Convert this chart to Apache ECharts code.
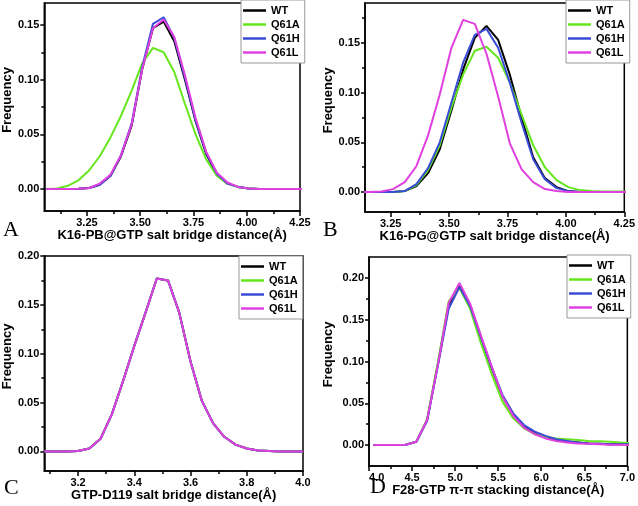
<!DOCTYPE html>
<html><head><meta charset="utf-8">
<script src="https://cdn.jsdelivr.net/npm/echarts@6/dist/echarts.min.js"></script>
<style>html,body{margin:0;padding:0;background:#fff}#c{width:638px;height:506px}</style>
</head><body><div id="c"></div>
<script>
const seriesNames = ['WT', 'Q61A', 'Q61H', 'Q61L'];
const seriesColors = ['#000000', '#66E61E', '#3A4CD6', '#E040E0'];

// Panel A: K16-PB@GTP salt bridge distance
const A_x = [3.06,3.11,3.16,3.21,3.26,3.31,3.36,3.41,3.46,3.51,3.56,3.61,3.66,3.71,3.76,3.81,3.86,3.91,3.96,4.01,4.06,4.11,4.16,4.21,4.26];
const A_WT   = [0,0,0,0.0003,0.001,0.004,0.012,0.030,0.058,0.110,0.147,0.153,0.135,0.100,0.062,0.032,0.013,0.005,0.002,0.0005,0,0,0,0,0];
const A_Q61A = [0,0.0005,0.003,0.008,0.017,0.030,0.047,0.067,0.090,0.115,0.129,0.125,0.107,0.078,0.050,0.027,0.012,0.005,0.002,0.0005,0,0,0,0,0];
const A_Q61H = [0,0,0,0.0003,0.001,0.004,0.012,0.031,0.060,0.112,0.151,0.157,0.138,0.102,0.063,0.033,0.014,0.005,0.002,0.0005,0,0,0,0,0];
const A_Q61L = [0,0,0,0.0003,0.001,0.005,0.013,0.031,0.059,0.110,0.147,0.155,0.139,0.104,0.065,0.034,0.015,0.006,0.002,0.0006,0,0,0,0,0];
const A_xTicks = [3.25,3.50,3.75,4.00,4.25];
const A_yTicks = [0,0.05,0.10,0.15];

// Panel B: K16-PG@GTP salt bridge distance
const B_x = [3.11,3.16,3.21,3.26,3.31,3.36,3.41,3.46,3.51,3.56,3.61,3.66,3.71,3.76,3.81,3.86,3.91,3.96,4.01,4.06,4.11,4.16,4.21,4.26];
const B_WT   = [0,0,0,0,0.001,0.006,0.019,0.043,0.082,0.123,0.155,0.167,0.153,0.118,0.075,0.035,0.014,0.005,0.001,0,0,0,0,0];
const B_Q61A = [0,0,0,0,0.001,0.007,0.022,0.047,0.085,0.118,0.142,0.146,0.135,0.110,0.078,0.047,0.025,0.012,0.005,0.002,0.001,0.0006,0.0005,0.0005];
const B_Q61H = [0,0,0,0,0.001,0.008,0.024,0.050,0.090,0.130,0.158,0.164,0.145,0.110,0.070,0.033,0.013,0.004,0.001,0,0,0,0,0];
const B_Q61L = [0,0,0.0005,0.003,0.010,0.026,0.057,0.098,0.145,0.173,0.169,0.139,0.096,0.049,0.023,0.010,0.003,0.001,0,0,0,0,0,0];
const B_xTicks = [3.25,3.50,3.75,4.00,4.25];
const B_yTicks = [0,0.05,0.10,0.15];

// Panel C: GTP-D119 salt bridge distance
const C_x = [3.08,3.12,3.16,3.20,3.24,3.28,3.32,3.36,3.40,3.44,3.48,3.52,3.56,3.60,3.64,3.68,3.72,3.76,3.80,3.84,3.88,3.92,3.96,4.00];
const C_WT   = [0,0,0,0.0005,0.003,0.013,0.038,0.072,0.108,0.142,0.177,0.175,0.142,0.092,0.052,0.029,0.015,0.007,0.003,0.001,0.0004,0,0,0];
const C_Q61A = [0,0,0,0.0005,0.003,0.013,0.038,0.072,0.108,0.142,0.177,0.175,0.142,0.092,0.052,0.029,0.015,0.007,0.003,0.001,0.0004,0,0,0];
const C_Q61H = [0,0,0,0.0005,0.003,0.013,0.038,0.072,0.108,0.142,0.177,0.175,0.142,0.092,0.052,0.029,0.015,0.007,0.003,0.001,0.0004,0,0,0];
const C_Q61L = [0,0,0,0.0005,0.003,0.013,0.038,0.072,0.108,0.142,0.177,0.175,0.142,0.092,0.052,0.029,0.015,0.007,0.003,0.001,0.0004,0,0,0];
const C_xTicks = [3.2,3.4,3.6,3.8,4.0];
const C_yTicks = [0,0.05,0.10,0.15,0.20];

// Panel D: F28-GTP pi-pi stacking distance
const D_x = [4.05,4.175,4.30,4.425,4.55,4.675,4.80,4.925,5.05,5.175,5.30,5.425,5.55,5.675,5.80,5.925,6.05,6.175,6.30,6.425,6.55,6.675,6.80,6.925,7.05];
const D_WT   = [0,0,0,0.0005,0.004,0.030,0.097,0.168,0.190,0.167,0.129,0.092,0.058,0.036,0.022,0.014,0.010,0.006,0.004,0.003,0.002,0.0015,0.001,0.001,0.001];
const D_Q61A = [0,0,0,0.0005,0.004,0.031,0.099,0.172,0.188,0.163,0.122,0.085,0.052,0.032,0.020,0.013,0.010,0.008,0.007,0.006,0.005,0.0045,0.004,0.003,0.0025];
const D_Q61H = [0,0,0,0.0005,0.004,0.029,0.095,0.163,0.189,0.166,0.129,0.093,0.060,0.038,0.024,0.016,0.011,0.007,0.005,0.003,0.002,0.0015,0.001,0.001,0.001];
const D_Q61L = [0,0,0,0.0005,0.004,0.030,0.096,0.170,0.194,0.169,0.131,0.094,0.058,0.035,0.021,0.013,0.008,0.005,0.003,0.002,0.0015,0.001,0.0005,0.0003,0.0002];
const D_xTicks = [4.0,4.5,5.0,5.5,6.0,6.5,7.0];
const D_yTicks = [0,0.05,0.10,0.15,0.20];

const xNames = ['K16-PB@GTP salt bridge distance(Å)', 'K16-PG@GTP salt bridge distance(Å)', 'GTP-D119 salt bridge distance(Å)', 'F28-GTP π-π stacking distance(Å)'];
const panelLetters = ['A', 'B', 'C', 'D'];

const SANS = "'Liberation Sans', Arial, sans-serif";

const panels = [
  { grid: {left:42, top:3, width:258, height:208}, xmin:3.05, xmax:4.25, ymin:-0.02, ymax:0.17,
    xt:A_xTicks, xm:[3.125,3.375,3.625,3.875,4.125], yt:A_yTicks, ym:[0.025,0.075,0.125], xd:2,
    x:A_x, ys:[A_WT,A_Q61A,A_Q61H,A_Q61L], yGap:29.5, xGap:18,
    legend:{left:241, top:0}, letter:{x:3, y:219} },
  { grid: {left:365, top:3, width:260, height:209}, xmin:3.14, xmax:4.25, ymin:-0.02, ymax:0.19,
    xt:B_xTicks, xm:[3.375,3.625,3.875,4.125], yt:B_yTicks, ym:[0.025,0.075,0.125,0.175], xd:2,
    x:B_x, ys:[B_WT,B_Q61A,B_Q61H,B_Q61L], yGap:29, xGap:18,
    legend:{left:566, top:0}, letter:{x:323, y:219} },
  { grid: {left:38, top:256, width:265, height:215}, xmin:3.08, xmax:4.0, ymin:-0.02, ymax:0.20,
    xt:C_xTicks, xm:[3.1,3.3,3.5,3.7,3.9], yt:C_yTicks, ym:[0.025,0.075,0.125,0.175], xd:1,
    x:C_x, ys:[C_WT,C_Q61A,C_Q61H,C_Q61L], yGap:26, xGap:17,
    legend:{left:239, top:256}, letter:{x:4, y:477} },
  { grid: {left:369, top:257, width:259, height:209}, xmin:4.0, xmax:7.0, ymin:-0.025, ymax:0.225,
    xt:D_xTicks, xm:[4.25,4.75,5.25,5.75,6.25,6.75], yt:D_yTicks, ym:[0.025,0.075,0.125,0.175], xd:1,
    x:D_x, ys:[D_WT,D_Q61A,D_Q61H,D_Q61L], yGap:34, xGap:17, alignMin:true,
    legend:{left:567, top:255}, letter:{x:370, y:476} }
];

const grid = [], xAxis = [], yAxis = [], series = [], legend = [], graphic = [];
const lineStyle = {color:'#000', width:1.5};
panels.forEach((p, g) => {
  grid.push(Object.assign({show:true, borderColor:'#000', borderWidth:1.5, backgroundColor:'transparent'}, p.grid));
  xAxis.push({
    type:'value', gridIndex:g, min:p.xmin, max:p.xmax, position:'bottom',
    name:xNames[g], nameLocation:'middle', nameGap:p.xGap,
    nameTextStyle:{fontFamily:SANS, fontWeight:'bold', fontSize:13, color:'#000'},
    axisLine:{show:true, onZero:false, lineStyle},
    axisTick:{show:true, length:5, customValues:p.xt, lineStyle},
    axisLabel:{show:true, customValues:p.xt, margin:6, fontFamily:SANS, fontWeight:'bold', fontSize:11, color:'#000',
      alignMinLabel: p.alignMin ? 'left' : undefined,
      formatter:v => Number(v).toFixed(p.xd)},
    splitLine:{show:false}
  });
  xAxis.push({
    type:'value', gridIndex:g, min:p.xmin, max:p.xmax, position:'bottom',
    axisLine:{show:false, onZero:false},
    axisTick:{show:true, length:3, customValues:p.xm, lineStyle},
    axisLabel:{show:false}, splitLine:{show:false}
  });
  yAxis.push({
    type:'value', gridIndex:g, min:p.ymin, max:p.ymax, position:'left',
    name:'Frequency', nameLocation:'middle', nameGap:p.yGap,
    nameTextStyle:{fontFamily:SANS, fontWeight:'bold', fontSize:13, color:'#000', padding:[0,0,0,14]},
    axisLine:{show:true, onZero:false, lineStyle},
    axisTick:{show:true, length:4, customValues:p.yt, lineStyle},
    axisLabel:{show:true, customValues:p.yt, margin:5, fontFamily:SANS, fontWeight:'bold', fontSize:11, color:'#000',
      formatter:v => Number(v).toFixed(2)},
    splitLine:{show:false}
  });
  yAxis.push({
    type:'value', gridIndex:g, min:p.ymin, max:p.ymax, position:'left',
    axisLine:{show:false, onZero:false},
    axisTick:{show:true, length:3, customValues:p.ym, lineStyle},
    axisLabel:{show:false}, splitLine:{show:false}
  });
  seriesNames.forEach((nm, i) => {
    series.push({
      type:'line', name:nm, xAxisIndex:2*g, yAxisIndex:2*g,
      data:p.x.map((xv, k) => [xv, p.ys[i][k]]),
      showSymbol:false, symbol:'none', clip:true,
      lineStyle:{color:seriesColors[i], width:2},
      itemStyle:{color:seriesColors[i]},
      z:2+i
    });
  });
  legend.push({
    show:true,
    data:seriesNames.slice(),
    icon:'rect',
    orient:'vertical', left:p.legend.left, top:p.legend.top,
    itemWidth:23, itemHeight:2.5, itemGap:1,
    padding:[4,5,4,2], borderColor:'#999', borderWidth:1, backgroundColor:'#fff',
    textStyle:{fontFamily:SANS, fontWeight:'bold', fontSize:11, color:'#000', lineHeight:13},
    selectedMode:false
  });
  graphic.push({
    type:'text', left:p.letter.x, top:p.letter.y,
    style:{text:panelLetters[g], font:"22px 'Liberation Serif', 'Times New Roman', serif", fill:'#000'}
  });
});

const chart = echarts.init(document.getElementById('c'), null, {renderer:'canvas'});
chart.setOption({
  animation:false, backgroundColor:'#fff',
  grid, xAxis, yAxis, series, legend, graphic
});
</script>
</body></html>
